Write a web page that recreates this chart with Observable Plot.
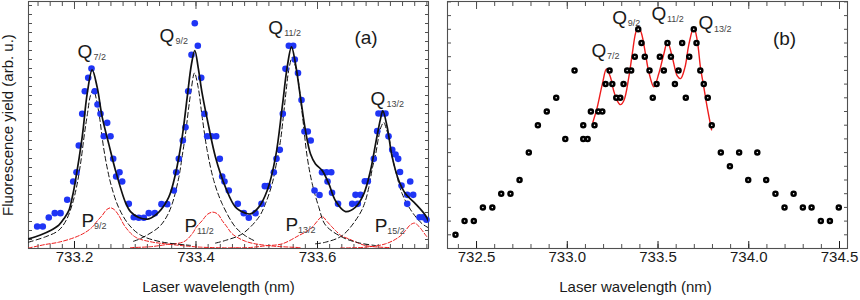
<!DOCTYPE html>
<html><head><meta charset="utf-8">
<script src="https://cdn.jsdelivr.net/npm/d3@7"></script>
<script src="https://cdn.jsdelivr.net/npm/@observablehq/plot@0.6"></script>
<style>
html,body{margin:0;padding:0;background:#fff;}
#wrap{position:relative;width:860px;height:300px;overflow:hidden;}
#pa{position:absolute;left:0;top:0;}
#pb{position:absolute;left:432px;top:0;}
</style></head><body>
<div id="wrap"><div id="pa"></div><div id="pb"></div></div>
<script>
// ---------- Panel (a) data ----------
const dotsA_x = [733.1386,733.1478,733.1577,733.1676,733.1770,733.1880,733.1979,733.2033,733.2071,733.2127,733.2170,733.2226,733.2280,733.2334,733.2379,733.2428,733.2482,733.2538,733.2593,733.2637,733.2686,733.2741,733.2785,733.2894,733.2976,733.3058,733.3141,733.3223,733.3322,733.3432,733.3526,733.3635,733.3674,733.3717,733.3783,733.3827,733.3872,733.3926,733.3980,733.4030,733.4086,733.4140,733.4184,733.4255,733.4332,733.4392,733.4431,733.4469,733.4540,733.4688,733.4787,733.4869,733.4979,733.5078,733.5133,733.5182,733.5281,733.5325,733.5379,733.5429,733.5473,733.5528,733.5600,733.5626,733.5679,733.5737,733.5786,733.5840,733.5888,733.5951,733.6033,733.6074,733.6148,733.6226,733.6165,733.6239,733.6338,733.6571,733.6626,733.6663,733.6708,733.6779,733.6828,733.6927,733.6983,733.7004,733.7062,733.7119,733.7169,733.7230,733.7284,733.7328,733.7358,733.7383,733.7526,733.7477,733.7575,733.7477,733.7679,733.7737,733.7794];
const dotsA_y = [2.44,2.44,3.44,3.93,3.93,5.41,7.44,8.48,11.44,14.96,17.48,18.96,20.0,17.48,16.0,14.96,12.48,13.96,12.48,9.96,8.0,8.48,7.44,4.96,3.48,3.41,3.41,3.93,3.93,4.93,4.93,6.44,8.48,9.96,12.0,13.48,17.48,21.52,25.03,22.52,18.96,14.96,12.48,12.48,12.48,9.96,8.0,7.44,6.44,4.96,3.93,3.41,3.93,4.96,6.93,6.93,8.48,9.96,10.96,14.96,19.96,22.52,22.52,21.0,19.5,16.5,13.0,13.0,12.0,6.44,5.95,8.48,8.48,8.48,7.45,6.2,4.96,4.96,5.96,4.96,5.96,7.48,7.48,9.96,13.04,15.0,15.0,15.0,12.46,10.96,10.44,9.96,8.5,7.0,7.45,5.96,5.96,4.96,3.48,3.48,3.2];

const fitA = [[733.1243,1.07],[733.1440,1.5],[733.1605,2.0],[733.1742,2.6],[733.1835,3.4],[733.1906,4.2],[733.1967,5.8],[733.2016,7.55],[733.2127,12.4],[733.2209,17.2],[733.2291,19.85],[733.2374,17.9],[733.2456,14.6],[733.2565,11.6],[733.2675,8.67],[733.2840,5.1],[733.2922,4.1],[733.3058,3.45],[733.3223,3.3],[733.3388,4.04],[733.3552,5.7],[733.3663,8.3],[733.3773,12.4],[733.3855,16.8],[733.3926,20.5],[733.3980,22.0],[733.4036,20.1],[733.4102,17.2],[733.4211,13.5],[733.4321,10.15],[733.4486,6.8],[733.4650,4.6],[733.4815,3.93],[733.4897,3.85],[733.5034,4.6],[733.5172,6.44],[733.5309,10.15],[733.5419,15.7],[733.5501,20.15],[733.5572,22.4],[733.5638,20.5],[733.5720,16.8],[733.5802,13.1],[733.5885,10.5],[733.5967,9.4],[733.6077,8.67],[733.6186,7.2],[733.6296,5.3],[733.6461,4.1],[733.6626,4.6],[733.6762,6.07],[733.6873,8.67],[733.6955,11.6],[733.7037,14.4],[733.7075,15.3],[733.7147,13.5],[733.7230,10.15],[733.7338,7.55],[733.7449,6.07],[733.7613,4.96],[733.7778,3.67],[733.7827,3.0]];

const q72 = [[733.1243,0.7],[733.1523,1.3],[733.1737,2.0],[733.1868,3.2],[733.1967,5.0],[733.2033,6.8],[733.2099,9.4],[733.2165,12.8],[733.2214,15.0],[733.2263,17.0],[733.2313,17.7],[733.2362,16.5],[733.2412,14.6],[733.2477,11.3],[733.2543,8.8],[733.2609,6.9],[733.2724,4.6],[733.2889,2.7],[733.3086,1.5],[733.3416,0.75],[733.3910,0.35]];
const q92 = [[733.2971,0.8],[733.3086,1.1],[733.3388,2.37],[733.3514,3.5],[733.3608,4.96],[733.3717,7.9],[733.3778,10.5],[733.3827,12.7],[733.3877,15.5],[733.3918,17.5],[733.3975,19.5],[733.4036,17.9],[733.4102,14.6],[733.4184,10.9],[733.4293,7.55],[733.4431,4.96],[733.4650,2.37],[733.4815,1.4],[733.4979,0.8]];
const q112 = [[733.4321,0.6],[733.4486,0.9],[733.4761,1.63],[733.5034,3.48],[733.5144,5.0],[733.5254,7.2],[733.5325,9.5],[733.5391,12.0],[733.5440,14.8],[733.5485,17.6],[733.5531,20.0],[733.5584,21.26],[733.5621,20.6],[733.5666,19.4],[733.5748,15.0],[733.5831,10.15],[733.5913,7.2],[733.6021,4.6],[733.6132,2.6],[733.6407,1.26],[733.6680,0.63],[733.6955,0.33]];
const q132 = [[733.5967,0.52],[733.6132,0.7],[733.6407,1.44],[733.6680,3.67],[733.6774,5.0],[733.6845,6.8],[733.6905,9.0],[733.6955,10.4],[733.7004,12.3],[733.7045,13.5],[733.7091,14.0],[733.7136,13.2],[733.7174,12.4],[733.7226,10.3],[733.7284,8.67],[733.7394,6.07],[733.7559,4.04],[733.7724,2.74],[733.7827,2.3]];

const p92 = [[733.1243,0.05],[733.1523,0.45],[733.1742,0.7],[733.2016,1.26],[733.2181,1.8],[733.2291,2.37],[733.2379,3.1],[733.2456,3.67],[733.2527,4.3],[733.2593,4.52],[733.2658,4.3],[733.2729,3.67],[733.2840,2.37],[733.3004,1.26],[733.3251,0.75],[733.3526,0.5],[733.4074,0.15],[733.4733,0.05]];
const p112 = [[733.2922,0.1],[733.3251,0.2],[733.3526,0.45],[733.3799,0.75],[733.3937,1.63],[733.4008,2.4],[733.4102,3.1],[733.4189,3.8],[733.4277,4.04],[733.4362,3.8],[733.4431,3.1],[733.4510,2.4],[733.4596,1.63],[733.4815,0.8],[733.5144,0.35],[733.5720,0.1]];
const p132 = [[733.4568,0.05],[733.4869,0.1],[733.5144,0.3],[733.5419,0.52],[733.5692,1.44],[733.5819,1.9],[733.5913,2.37],[733.5992,3.0],[733.6077,3.56],[733.6156,3.0],[733.6242,2.37],[733.6296,2.0],[733.6395,1.4],[733.6515,1.07],[733.6790,0.33],[733.7202,0.1]];
const p152 = [[733.6379,0.05],[733.6790,0.15],[733.7119,0.52],[733.7338,1.26],[733.7449,2.0],[733.7523,2.6],[733.7597,2.82],[733.7663,2.5],[733.7724,2.0],[733.7778,1.5],[733.7827,1.1]];

const qLabA_x = [733.2049, 733.3399, 733.5188, 733.6872];
const qLabA_y = [21.22, 22.94, 23.83, 15.94];
const qLabA_s = ["7/2", "9/2", "11/2", "13/2"];
const pLabA_x = [733.2115, 733.3811, 733.5473, 733.6943];
const pLabA_y = [2.44, 1.81, 1.89, 1.81];
const pLabA_s = ["9/2", "11/2", "13/2", "15/2"];

const xMajorA = [733.2, 733.4, 733.6];
const xDomainA = [733.1243, 733.7827];

// ---------- Panel (b) data ----------
const dotsB_x = [732.384,732.434,732.485,732.535,732.587,732.636,732.687,732.737,732.788,732.838,732.887,732.939,732.989,733.040,733.088,733.088,733.112,733.130,733.150,733.171,733.193,733.211,733.233,733.248,733.270,733.292,733.310,733.330,733.352,733.372,733.391,733.409,733.427,733.453,733.471,733.492,733.510,733.532,733.552,733.571,733.593,733.613,733.633,733.653,733.672,733.697,733.712,733.733,733.752,733.774,733.796,733.846,733.896,733.947,733.997,734.047,734.096,734.147,734.197,734.247,734.298,734.346,734.397,734.447,734.496];
const dotsB_y = [1,2,2,3,3,4,4,5,7,9,10,11,8,13,9,8,8,10,9,10,10,12,13,12,11,11,12,13,13,14,16,15,14,13,11,12,14,13,15,14,12,13,15,11,14,16,15,13,12,11,9,7,6,7,5,7,5,4,3,4,3,3,2,2,3];

const fitB = [[733.141,9.22],[733.165,10.3],[733.193,12.0],[733.216,13.1],[733.238,12.5],[733.256,11.5],[733.275,10.8],[733.293,10.5],[733.312,10.8],[733.339,12.5],[733.358,14.2],[733.376,15.7],[733.391,16.2],[733.409,15.7],[733.431,14.2],[733.449,12.9],[733.477,11.8],[733.504,12.75],[733.532,14.2],[733.552,15.1],[733.578,14.0],[733.606,12.6],[733.624,12.4],[733.648,13.2],[733.670,14.9],[733.697,16.15],[733.716,15.2],[733.734,13.2],[733.752,11.8],[733.771,10.3],[733.795,8.66]];

const qLabB_x = [733.1336, 733.2477, 733.4642, 733.7231];
const qLabB_y = [13.98, 16.39, 16.68, 15.99];
const qLabB_s = ["7/2", "9/2", "11/2", "13/2"];

const xMajorB = [732.5, 733.0, 733.5, 734.0, 734.5];
const xDomainB = [732.340, 734.544];

// ---------- styling ----------
const font = "'Liberation Sans', Arial, Helvetica, sans-serif";
const ink = "#1a1a1a";
const frameColor = "#505050";

function frameAxes(xMajor, xMinor, yTicks) {
  const blank = () => "";
  return [
    Plot.axisX({anchor: "bottom", ticks: xMinor, tickSize: -4, tickFormat: blank, label: null, color: frameColor}),
    Plot.axisX({anchor: "bottom", ticks: xMajor, tickSize: -7, tickPadding: 10, tickFormat: d3.format(".1f"), fontSize: 15, label: null, color: ink}),
    Plot.axisX({anchor: "top", ticks: xMinor, tickSize: -4, tickFormat: blank, label: null, color: frameColor}),
    Plot.axisX({anchor: "top", ticks: xMajor, tickSize: -7, tickFormat: blank, label: null, color: frameColor}),
    Plot.axisY({anchor: "left", ticks: yTicks, tickSize: -4, tickFormat: blank, label: null, color: frameColor}),
    Plot.axisY({anchor: "right", ticks: yTicks, tickSize: -4, tickFormat: blank, label: null, color: frameColor}),
    Plot.frame({stroke: frameColor, strokeWidth: 1.1})
  ];
}

const tbl = (xs, ys, ss) => xs.map((x, i) => ({x, y: ys[i], s: ss ? ss[i] : null}));
const pts = (a) => a.map(d => ({x: d[0], y: d[1]}));

const dotsA = tbl(dotsA_x, dotsA_y);
const qA = tbl(qLabA_x, qLabA_y, qLabA_s);
const pA = tbl(pLabA_x, pLabA_y, pLabA_s);
const dotsB = tbl(dotsB_x, dotsB_y);
const qB = tbl(qLabB_x, qLabB_y, qLabB_s);

const minorA = d3.range(733.14, 733.781, 0.02).map(v => +v.toFixed(2));
const minorB = d3.range(732.4, 734.55, 0.1).map(v => +v.toFixed(1));

const black = "#111";
const red = "#ee1c1c";
const dashBlack = (a) => Plot.line(pts(a), {x: "x", y: "y", curve: "catmull-rom", stroke: black, strokeWidth: 1, strokeDasharray: "5,3", clip: true});
const dashRed = (a) => Plot.line(pts(a), {x: "x", y: "y", curve: "catmull-rom", stroke: red, strokeWidth: 1, strokeDasharray: "4,2", clip: true});

const plotA = Plot.plot({
  width: 432, height: 300,
  marginLeft: 28, marginRight: 4, marginTop: 1, marginBottom: 52,
  x: {domain: xDomainA},
  y: {domain: [0, 247 / 9]},
  style: {fontFamily: font, background: "transparent", color: ink},
  marks: [
    ...frameAxes(xMajorA, minorA, d3.range(1, 28)),
    dashRed(p92), dashRed(p112), dashRed(p132), dashRed(p152),
    dashBlack(q72), dashBlack(q92), dashBlack(q112), dashBlack(q132),
    Plot.dot(dotsA, {x: "x", y: "y", r: 3.3, fill: "#1f35f5", stroke: "none"}),
    Plot.line(pts(fitA), {x: "x", y: "y", curve: "catmull-rom", stroke: black, strokeWidth: 1.7, clip: true}),
    Plot.text(qA, {x: "x", y: "y", text: () => "Q", textAnchor: "start", lineAnchor: "bottom", fontSize: 19, fill: ink}),
    Plot.text(qA, {x: "x", y: "y", text: "s", dx: 16, dy: 2, textAnchor: "start", lineAnchor: "bottom", fontSize: 9, fill: "#444"}),
    Plot.text(pA, {x: "x", y: "y", text: () => "P", textAnchor: "start", lineAnchor: "bottom", fontSize: 19, fill: ink}),
    Plot.text(pA, {x: "x", y: "y", text: "s", dx: 12.5, dy: 2, textAnchor: "start", lineAnchor: "bottom", fontSize: 9, fill: "#444"}),
    Plot.text(["(a)"], {x: 733.6798, y: 22.67, textAnchor: "middle", lineAnchor: "bottom", fontSize: 19, fill: ink}),
    Plot.text(["Fluorescence yield (arb. u.)"], {frameAnchor: "left", textAnchor: "middle", lineAnchor: "middle", rotate: -90, dx: -20.5, fontSize: 15, fill: ink}),
    Plot.text(["Laser wavelength (nm)"], {frameAnchor: "bottom", textAnchor: "middle", dy: 43.5, dx: -10, fontSize: 15, fill: ink})
  ]
});

const plotB = Plot.plot({
  width: 428, height: 300,
  marginLeft: 15, marginRight: 13, marginTop: 1, marginBottom: 52,
  x: {domain: xDomainB},
  y: {domain: [0, 247 / 13.7]},
  style: {fontFamily: font, background: "transparent", color: ink},
  marks: [
    ...frameAxes(xMajorB, minorB, d3.range(1, 19)),
    Plot.line(pts(fitB), {x: "x", y: "y", curve: "catmull-rom", stroke: red, strokeWidth: 1.4}),
    Plot.dot(dotsB, {x: "x", y: "y", r: 2, fill: "white", stroke: "#000", strokeWidth: 2.5}),
    Plot.text(qB, {x: "x", y: "y", text: () => "Q", textAnchor: "start", lineAnchor: "bottom", fontSize: 19, fill: ink}),
    Plot.text(qB, {x: "x", y: "y", text: "s", dx: 15.5, dy: 2.5, textAnchor: "start", lineAnchor: "bottom", fontSize: 9, fill: "#444"}),
    Plot.text(["(b)"], {x: 734.197, y: 14.82, textAnchor: "middle", lineAnchor: "bottom", fontSize: 19, fill: ink}),
    Plot.text(["Laser wavelength (nm)"], {frameAnchor: "bottom", textAnchor: "middle", dy: 43.5, dx: -12, fontSize: 15, fill: ink})
  ]
});

document.getElementById("pa").appendChild(plotA);
document.getElementById("pb").appendChild(plotB);
</script></body></html>
